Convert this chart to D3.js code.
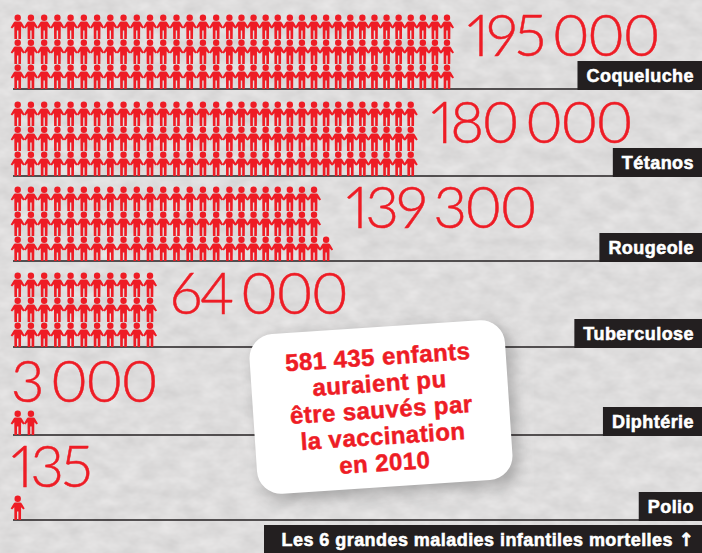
<!DOCTYPE html>
<html>
<head>
<meta charset="utf-8">
<script src="https://cdn.jsdelivr.net/npm/d3@7"></script>
<style>
body { margin: 0; background: #dcdbda; overflow: hidden; }
svg { display: block; }
.num { font-family: "Lato", sans-serif; font-weight: 300; fill: #ee1c25; stroke: #ee1c25; stroke-width: .5; font-variant-numeric: proportional-nums; font-feature-settings: "pnum" 1; }
.lab { font-family: "Liberation Sans", sans-serif; font-weight: bold; fill: #fff; stroke: #fff; stroke-width: .55; letter-spacing: .45px; }
.msg { font-family: "Liberation Sans", sans-serif; font-weight: bold; fill: #ee1c25; stroke: #ee1c25; stroke-width: .5; letter-spacing: .45px; }
</style>
</head>
<body>
<div id="chart"></div>
<script>
var diseases = ["Coqueluche", "Tétanos", "Rougeole", "Tuberculose", "Diphtérie", "Polio"];
var deaths = [195000, 180000, 139300, 64000, 3000, 135];
var figures = [105, 96, 73, 33, 2, 1];
var message = ["581 435 enfants", "auraient pu", "être sauvés par", "la vaccination", "en 2010"];
var footer = "Les 6 grandes maladies infantiles mortelles";
var arrow = "↑";

var width = 702, height = 553;
var red = "#ee1c25", ink = "#231f20";

var svg = d3.select("#chart").append("svg")
    .attr("width", width)
    .attr("height", height);

var defs = svg.append("defs");

// paper texture, one noise channel so it stays grey
var paper = defs.append("filter").attr("id", "paper")
    .attr("x", 0).attr("y", 0).attr("width", "100%").attr("height", "100%")
    .attr("color-interpolation-filters", "sRGB");
paper.append("feTurbulence")
    .attr("type", "fractalNoise")
    .attr("baseFrequency", "0.05 0.08")
    .attr("numOctaves", 3)
    .attr("seed", 7);
paper.append("feColorMatrix")
    .attr("values", "0.1 0 0 0 0.82  0.1 0 0 0 0.815  0.1 0 0 0 0.815  0 0 0 0 1");

var blur = defs.append("filter").attr("id", "soft")
    .attr("x", "-20%").attr("y", "-20%").attr("width", "140%").attr("height", "140%");
blur.append("feGaussianBlur").attr("stdDeviation", 7);

svg.append("rect")
    .attr("width", width)
    .attr("height", height)
    .attr("filter", "url(#paper)");

// the lighter patch behind the message
svg.append("rect")
    .attr("x", 237).attr("y", 320)
    .attr("width", 297).attr("height", 205)
    .attr("fill", "#fff")
    .attr("opacity", .05);

// baselines are not quite evenly spaced in the original
var y = d3.scaleOrdinal().domain(diseases).range([89, 176, 261, 347, 435, 520]);

// the figures get tighter after column 16
var x = d3.scaleLinear().domain([0, 16, 34]).range([17.7, 229.4, 447]);

var rowStep = 25;

var fmt = d3.formatLocale({thousands: " ", grouping: [3], decimal: ",", currency: ["", ""]}).format(",d");

var person = "M-2.3,-17.5 L2.3,-17.5 Q3.6,-17.5 4.2,-16.3 L7,-11.4 L5.6,-10.4 L3.4,-12.8 L3.3,0 L0.7,0 L0.7,-8.5 L-0.7,-8.5 L-0.7,0 L-3.3,0 L-3.4,-12.8 L-5.6,-10.4 L-7,-11.4 L-4.2,-16.3 Q-3.6,-17.5 -2.3,-17.5 Z";

function seats(n){
    // small counts sit side by side, the rest fill columns from the bottom
    var rows = n < 3 ? 1 : 3;
    return d3.range(n).map(function(i){
        return {col: Math.floor(i / rows), row: i % rows};
    });
}

var rules = svg.append("g");

diseases.forEach(function(d){
    rules.append("line")
        .attr("x1", 13).attr("x2", width)
        .attr("y1", y(d)).attr("y2", y(d))
        .attr("stroke", ink)
        .attr("stroke-width", 1.5);
});

var rowsG = svg.selectAll(".row")
    .data(diseases)
    .enter().append("g")
    .attr("class", "row")
    .attr("transform", function(d){ return "translate(0," + y(d) + ")"; });

var people = rowsG.selectAll(".person")
    .data(function(d, i){ return seats(figures[i]); })
    .enter().append("g")
    .attr("class", "person")
    .attr("transform", function(s){ return "translate(" + x(s.col) + "," + (-s.row * rowStep) + ")"; })
    .attr("fill", red);

people.append("circle").attr("cy", -21.2).attr("r", 3.2);
people.append("path").attr("d", person);

rowsG.append("text")
    .attr("class", "num")
    .attr("font-size", 58)
    .attr("letter-spacing", -2.4)
    .attr("word-spacing", -5)
    .attr("x", function(d, i){
        var s = seats(figures[i]);
        return figures[i] < 3 ? 11 : x(s[s.length - 1].col) + 20;
    })
    .attr("y", -33)
    .text(function(d, i){ return fmt(deaths[i]); });

// black tags, sized on their text
rowsG.each(function(d){
    var g = d3.select(this);
    var tag = g.append("rect").attr("fill", ink);
    var t = g.append("text")
        .attr("class", "lab")
        .attr("font-size", 18)
        .attr("text-anchor", "end")
        .attr("x", 694)
        .attr("y", -7)
        .text(d);
    var w = t.node().getComputedTextLength();
    tag.attr("x", 694 - w - 9)
        .attr("y", -28)
        .attr("width", w + 17)
        .attr("height", 29);
});

// footer
svg.append("rect")
    .attr("x", 264).attr("y", 525)
    .attr("width", width - 264).attr("height", 28)
    .attr("fill", ink);

var foot = svg.append("text")
    .attr("class", "lab")
    .attr("font-size", 18)
    .attr("text-anchor", "end")
    .attr("x", 694)
    .attr("y", 546)
    .text(footer + " ");

foot.append("tspan")
    .attr("font-family", "DejaVu Sans")
    .text(arrow);

// message card
var card = svg.append("g").attr("transform", "translate(381,407) rotate(-3.8)");

card.append("rect")
    .attr("x", -124).attr("y", -76)
    .attr("width", 258).attr("height", 164)
    .attr("rx", 24)
    .attr("fill", "#000")
    .attr("opacity", .22)
    .attr("filter", "url(#soft)");

card.append("rect")
    .attr("x", -128).attr("y", -80)
    .attr("width", 256).attr("height", 160)
    .attr("rx", 24)
    .attr("fill", "#fff");

card.selectAll(".msg")
    .data(message)
    .enter().append("text")
    .attr("class", "msg")
    .attr("font-size", 24)
    .attr("text-anchor", "middle")
    .attr("y", function(d, i){ return -42 + i * 26.5; })
    .text(function(d){ return d; });
</script>
</body>
</html>
